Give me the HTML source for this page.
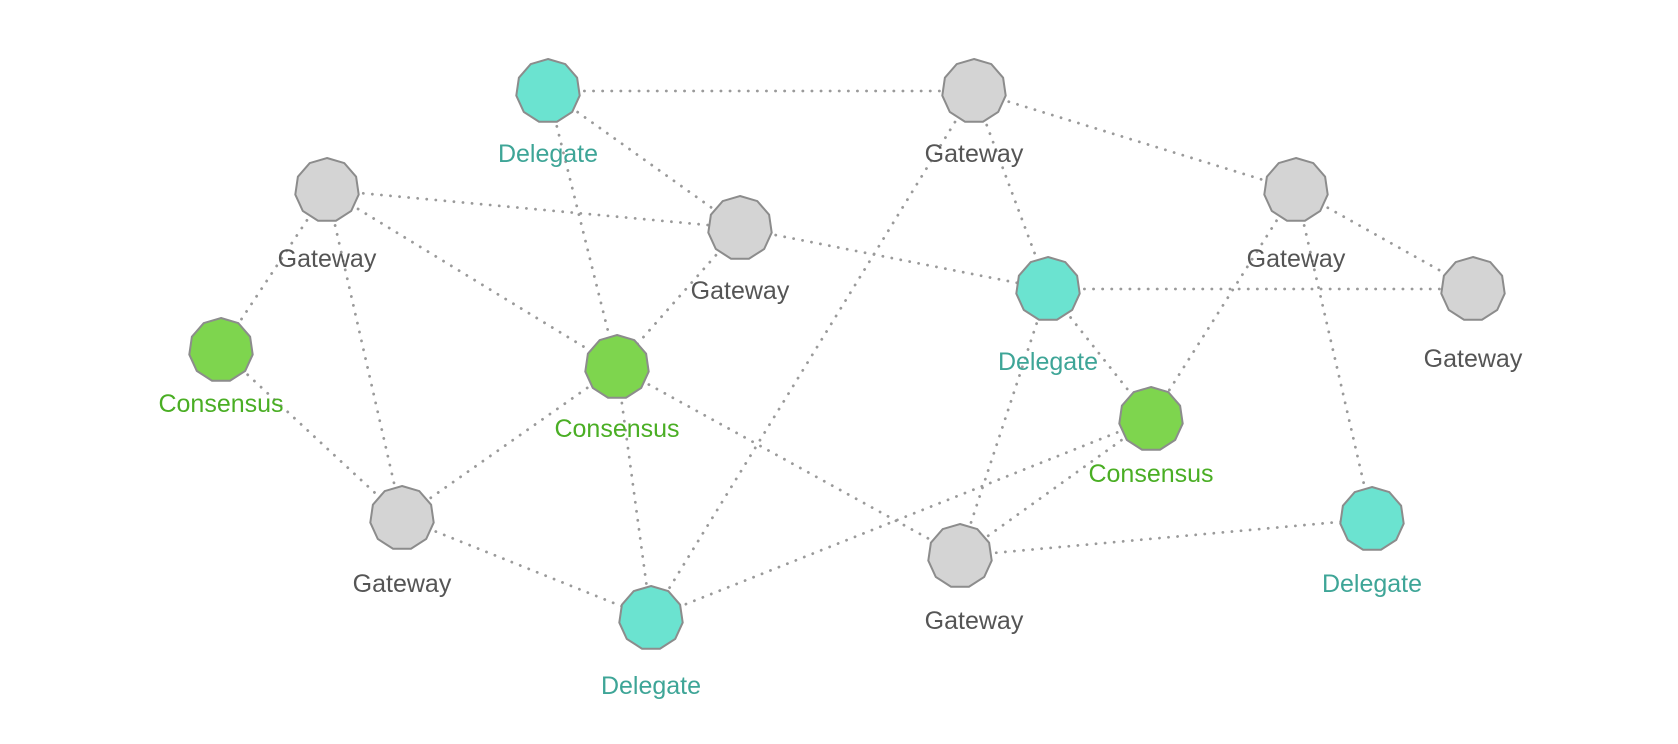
<!DOCTYPE html>
<html><head><meta charset="utf-8"><style>
html,body{margin:0;padding:0;background:#fff;}
svg{display:block;}
text{font-family:"Liberation Sans",sans-serif;font-size:25px;text-anchor:middle;}
</style></head><body>
<svg id="chart" width="1678" height="744" viewBox="0 0 1678 744">
<g id="edges"></g>
<g id="nodes"></g>
</svg>
<script>
const nodeTypes = ["D","G","G","G","G","D","G","C","C","C","G","G","D","D"];
const nodeX = [548,974,327,740,1296,1048,1473,221,617,1151,402,960,1372,651];
const nodeY = [91,91,190,228,190,289,289,350,367,419,518,556,519,618];
const labelDX = [0,0,0,0,0,0,0,0,0,0,0,14,0,0];
const labelDY = [71,71,77,71,77,81,78,62,70,63,74,73,73,76];
const edgeFrom = [1,1,1,2,2,2,3,3,3,3,4,4,5,5,5,6,6,6,8,9,9,9,10,10,11,12];
const edgeTo   = [2,4,9,5,6,14,4,9,8,11,9,6,7,10,13,7,10,12,11,11,14,12,12,14,14,13];
const typeNames = {D:"Delegate",G:"Gateway",C:"Consensus"};
const fills = {D:"#6be3d0",G:"#d4d4d4",C:"#7ed54e"};
const labelColors = {D:"#3ea597",G:"#555555",C:"#4aae24"};
const NS="http://www.w3.org/2000/svg";
const eg=document.getElementById('edges'), ng=document.getElementById('nodes');
for(let i=0;i<edgeFrom.length;i++){
  const a=edgeFrom[i]-1,b=edgeTo[i]-1;
  const l=document.createElementNS(NS,'line');
  l.setAttribute('x1',nodeX[a]);l.setAttribute('y1',nodeY[a]);
  l.setAttribute('x2',nodeX[b]);l.setAttribute('y2',nodeY[b]);
  l.setAttribute('stroke','#9a9a9a');l.setAttribute('stroke-width','2.8');
  l.setAttribute('stroke-dasharray','0.1 9');l.setAttribute('stroke-linecap','round');
  
  
  eg.appendChild(l);
}
for(let i=0;i<nodeX.length;i++){
  const t=nodeTypes[i];const pts=[];const r=32,n=11;
  for(let k=0;k<n;k++){const ang=-Math.PI/2+k*2*Math.PI/n;pts.push((nodeX[i]+r*Math.cos(ang)).toFixed(1)+','+(nodeY[i]+r*Math.sin(ang)).toFixed(1));}
  const p=document.createElementNS(NS,'polygon');
  p.setAttribute('points',pts.join(' '));p.setAttribute('fill',fills[t]);
  p.setAttribute('stroke','#8c8c8c');p.setAttribute('stroke-width','2');
  
  
  ng.appendChild(p);
  const tx=document.createElementNS(NS,'text');
  tx.setAttribute('x',nodeX[i]+labelDX[i]);tx.setAttribute('y',nodeY[i]+labelDY[i]);
  tx.setAttribute('fill',labelColors[t]);tx.textContent=typeNames[t];
  
  
  ng.appendChild(tx);
}
</script>
</body></html>
